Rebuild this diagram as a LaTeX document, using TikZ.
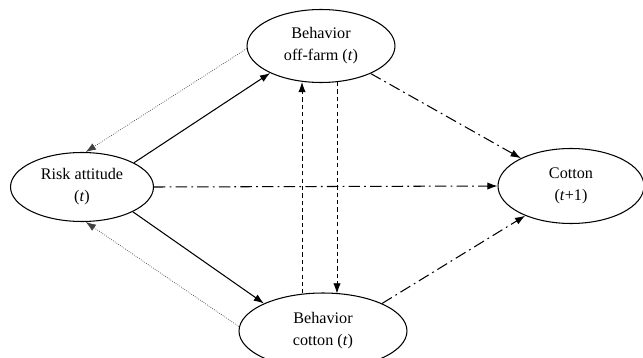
\documentclass[tikz,border=0pt]{standalone}
\usepackage{fontspec}
\setmainfont{Liberation Serif}
\usetikzlibrary{shapes.geometric,arrows.meta,calc}

\tikzset{
  zustand/.style={ellipse, draw, line width=0.6pt, inner sep=0pt,
    minimum width=2.92cm, minimum height=1.46cm, align=center,
    font=\fontsize{9.2}{12.5}\selectfont},
  pfeil/.style={-{Latex[length=5.8pt,width=4.2pt]}, line width=0.6pt},
  punkt/.style={pfeil, line width=0.4pt, black!75, dash pattern=on 0.4pt off 0.8pt},
  strich/.style={pfeil, line width=0.45pt, dash pattern=on 2.4pt off 1.8pt},
  strichpunkt/.style={pfeil, dash pattern=on 6.5pt off 2.4pt on 1pt off 2.4pt},
}

\begin{document}
\begin{tikzpicture}[x=0.02cm, y=-0.02cm]

        % Rahmen
        \clip (0,0) rectangle (643,358);

        % Knoten
        \node[zustand, minimum width=2.86cm, minimum height=1.38cm] (risk) at (82,187) {Risk attitude\\(\textit{t})};
        \node[zustand, minimum width=2.96cm] (offfarm) at (321,46) {Behavior\\off-farm (\textit{t})};
        \node[zustand, minimum height=1.5cm] (cotton) at (571,186) {Cotton\\(\textit{t}+1)};
        \node[zustand, minimum width=3.36cm, minimum height=1.52cm] (bcotton) at (323,331) {Behavior\\cotton (\textit{t})};

        % Risiko auf Verhalten
        \draw[pfeil] (risk.25) -- (offfarm.-152);
        \draw[pfeil] (risk.-26) -- (bcotton.155);

        % Rueckwirkung auf Risiko
        \draw[punkt] (offfarm.182) -- (risk.84);
        \draw[punkt] (bcotton.177) -- (risk.-84);

        % Verhalten untereinander
        \draw[strich] ($(bcotton.north)+(-21,1)$) -- ($(offfarm.south)+(-19,-1)$);
        \draw[strich] ($(offfarm.south)+(16,-1)$) -- ($(bcotton.north)+(14,1)$);

        % Wirkung auf Baumwolle
        \draw[strichpunkt] (offfarm.-29) -- (cotton.151);
        \draw[strichpunkt] (risk.east) -- (cotton.west);
        \draw[strichpunkt] (bcotton.25) -- (cotton.-147);

    \end{tikzpicture}
\end{document}
